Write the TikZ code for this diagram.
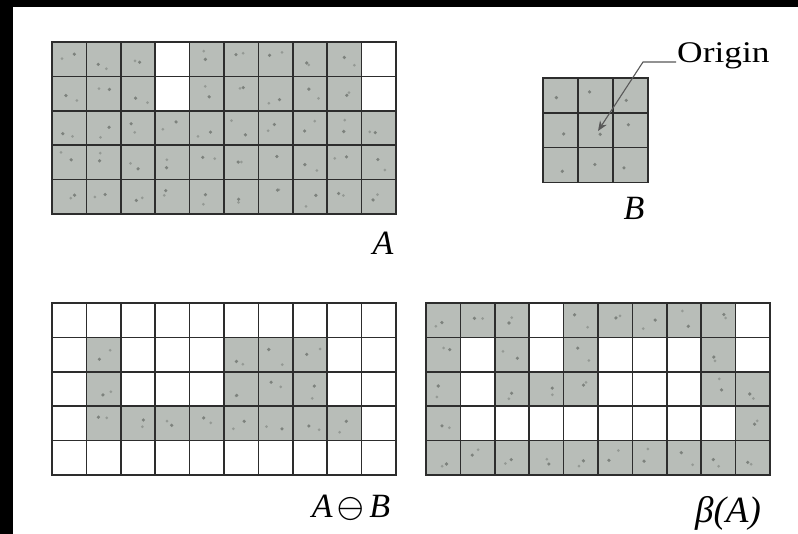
\documentclass[tikz,border=0pt]{standalone}
\usepackage{fontspec}
\setmainfont{Liberation Serif}
\newfontfamily\lsr{Liberation Serif}
\newfontfamily\lmm{latinmodern-math.otf}
\usetikzlibrary{arrows.meta}
\definecolor{cellfill}{RGB}{184,189,184}
\definecolor{gridline}{RGB}{45,45,45}
\definecolor{dotcol}{RGB}{125,130,125}
\newcommand{\mkgrid}[5]{% x0,y0,cols,rows,filled list
  \begin{scope}[shift={(#1,#2)},x=34.4pt,y=-34.4pt]
    \foreach \cc/\rr in {#5} {
      \fill[cellfill] (\cc,\rr) rectangle ++(1,1);
      \pgfmathsetmacro{\dxa}{0.3+0.4*rnd}\pgfmathsetmacro{\dya}{0.3+0.4*rnd}
      \pgfmathsetmacro{\dxb}{0.2+0.6*rnd}\pgfmathsetmacro{\dyb}{0.2+0.6*rnd}
      \fill[dotcol] (\cc+\dxa,\rr+\dya) circle (1.8pt);
      \fill[dotcol,opacity=0.6] (\cc+\dxb,\rr+\dyb) circle (1.5pt);
    }
    \foreach \i in {0,...,#3} \draw[gridl] (\i,0) -- (\i,#4);
    \foreach \j in {0,...,#4} \draw[gridl] (0,\j) -- (#3,\j);
  \end{scope}}
\begin{document}
\pgfmathsetseed{7}
\begin{tikzpicture}[x=1pt,y=-1pt,
  gridl/.style={draw=gridline,line width=1.7pt,line cap=rect},
  lbl/.style={font=\lsr\itshape\fontsize{34}{34}\selectfont,inner sep=0pt}]
\useasboundingbox (0,0) rectangle (798,534);
\fill[white] (0,0) rectangle (798,534);
\fill[black] (0,0) rectangle (798,7);
\fill[black] (0,0) rectangle (13,534);

% A
\mkgrid{52}{42}{10}{5}{0/0,1/0,2/0,4/0,5/0,6/0,7/0,8/0,
  0/1,1/1,2/1,4/1,5/1,6/1,7/1,8/1,
  0/2,1/2,2/2,3/2,4/2,5/2,6/2,7/2,8/2,9/2,
  0/3,1/3,2/3,3/3,4/3,5/3,6/3,7/3,8/3,9/3,
  0/4,1/4,2/4,3/4,4/4,5/4,6/4,7/4,8/4,9/4}
% B
\begin{scope}[shift={(543,78)},x=35pt,y=-34.8pt]
  \foreach \cc in {0,1,2} \foreach \rr in {0,1,2} {
    \fill[cellfill] (\cc,\rr) rectangle ++(1,1);
    \pgfmathsetmacro{\dxa}{0.3+0.4*rnd}\pgfmathsetmacro{\dya}{0.3+0.4*rnd}
    \fill[dotcol] (\cc+\dxa,\rr+\dya) circle (1.8pt);
  }
  \foreach \i in {0,...,3} \draw[gridl] (\i,0) -- (\i,3);
  \foreach \j in {0,...,3} \draw[gridl] (0,\j) -- (3,\j);
\end{scope}
% A erosion B
\mkgrid{52}{303}{10}{5}{1/1,5/1,6/1,7/1,1/2,5/2,6/2,7/2,
  1/3,2/3,3/3,4/3,5/3,6/3,7/3,8/3}
% beta(A)
\mkgrid{426}{303}{10}{5}{0/0,1/0,2/0,4/0,5/0,6/0,7/0,8/0,
  0/1,2/1,4/1,8/1,
  0/2,2/2,3/2,4/2,8/2,9/2,
  0/3,9/3,
  0/4,1/4,2/4,3/4,4/4,5/4,6/4,7/4,8/4,9/4}

% labels
\node[lbl,anchor=base] (la) at (383,255) {A};
\node[lbl,anchor=base] (lb) at (634,220) {B};
\node[lbl,anchor=base] (lab) at (351,517) {A\hspace{0.15em}{\lmm\upshape\fontsize{34}{34}\selectfont ⊖}\hspace{0.15em}B};
\node[lbl,anchor=base,font=\lsr\itshape\fontsize{37}{37}\selectfont] (lba) at (728,522) {β(A)};
\node[inner sep=0pt,anchor=base west,font=\lsr\fontsize{30}{30}\selectfont] (orig) at (677,63) {\scalebox{1.18}[1]{Origin}};
\coordinate (bend) at (643,62);
\coordinate (otip) at (598,131);
\draw[line width=1.1pt,draw=black!65,-{Stealth[length=10pt,width=8pt]}]
  ([xshift=-1pt,yshift=1pt]orig.base west) -- (bend) -- (otip);
\end{tikzpicture}
\end{document}
